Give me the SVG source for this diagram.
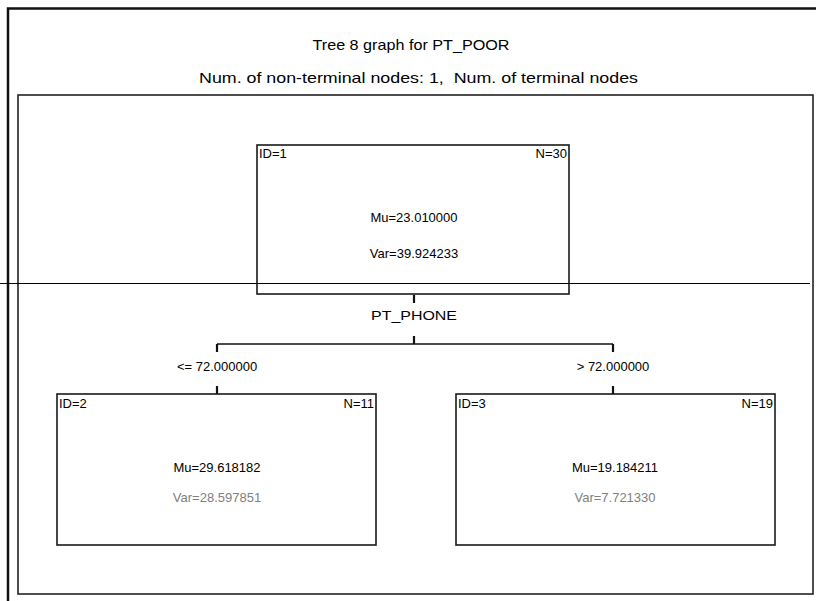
<svg xmlns="http://www.w3.org/2000/svg" width="816" height="601" viewBox="0 0 816 601">
<style>
.t{font-family:"Liberation Sans",Arial,sans-serif;fill:#000}
.title{font-size:15px}
.sub{font-size:15px}
.n{font-size:13px}
.g{fill:#808080}
.box{fill:none;stroke:#1a1a1a;stroke-width:1.6}
.c{fill:none;stroke:#111;stroke-width:1.3}
.tick{stroke:#111;stroke-width:2.2}
</style>
<rect width="816" height="601" fill="#fff"/>
<path d="M8,601 V8.5 H816" fill="none" stroke="#111" stroke-width="2.5"/>
<rect x="18" y="95" width="795" height="499" fill="none" stroke="#222" stroke-width="1.6"/>
<text class="t title" x="411" y="50" text-anchor="middle" textLength="197" lengthAdjust="spacingAndGlyphs">Tree 8 graph for PT_POOR</text>
<text class="t sub" x="418.5" y="83" text-anchor="middle" textLength="439" lengthAdjust="spacingAndGlyphs" xml:space="preserve">Num. of non-terminal nodes: 1,  Num. of terminal nodes</text>
<g id="connectors">
<line class="tick" x1="414" y1="295" x2="414" y2="303"/>
<line class="tick" x1="414" y1="336" x2="414" y2="344"/>
<path class="c" d="M217,344 H613"/>
<line class="tick" x1="217" y1="344" x2="217" y2="352"/>
<line class="tick" x1="613" y1="344" x2="613" y2="352"/>
<line class="tick" x1="217" y1="386" x2="217" y2="394"/>
<line class="tick" x1="613" y1="386" x2="613" y2="394"/>
<text class="t n" x="414" y="320" text-anchor="middle" textLength="86" lengthAdjust="spacingAndGlyphs">PT_PHONE</text>
<text class="t n" x="217" y="371" text-anchor="middle">&lt;= 72.000000</text>
<text class="t n" x="613" y="371" text-anchor="middle">&gt; 72.000000</text>
</g>
<g id="node1">
<rect class="box" x="257" y="145" width="312" height="149"/>
<text class="t n" x="259" y="158">ID=1</text>
<text class="t n" x="567" y="158" text-anchor="end">N=30</text>
<text class="t n" x="414" y="222" text-anchor="middle">Mu=23.010000</text>
<text class="t n" x="414" y="258" text-anchor="middle">Var=39.924233</text>
</g>
<g id="node2">
<rect class="box" x="57" y="394" width="319" height="151"/>
<text class="t n" x="59" y="408">ID=2</text>
<text class="t n" x="374" y="408" text-anchor="end">N=11</text>
<text class="t n" x="217" y="472" text-anchor="middle">Mu=29.618182</text>
<text class="t n g" x="217" y="502" text-anchor="middle">Var=28.597851</text>
</g>
<g id="node3">
<rect class="box" x="456" y="394" width="319" height="151"/>
<text class="t n" x="458" y="408">ID=3</text>
<text class="t n" x="773" y="408" text-anchor="end">N=19</text>
<text class="t n" x="615" y="472" text-anchor="middle">Mu=19.184211</text>
<text class="t n g" x="615" y="502" text-anchor="middle">Var=7.721330</text>
</g>
<line x1="0" y1="283.5" x2="810" y2="283.5" stroke="#000" stroke-width="1"/>
</svg>
